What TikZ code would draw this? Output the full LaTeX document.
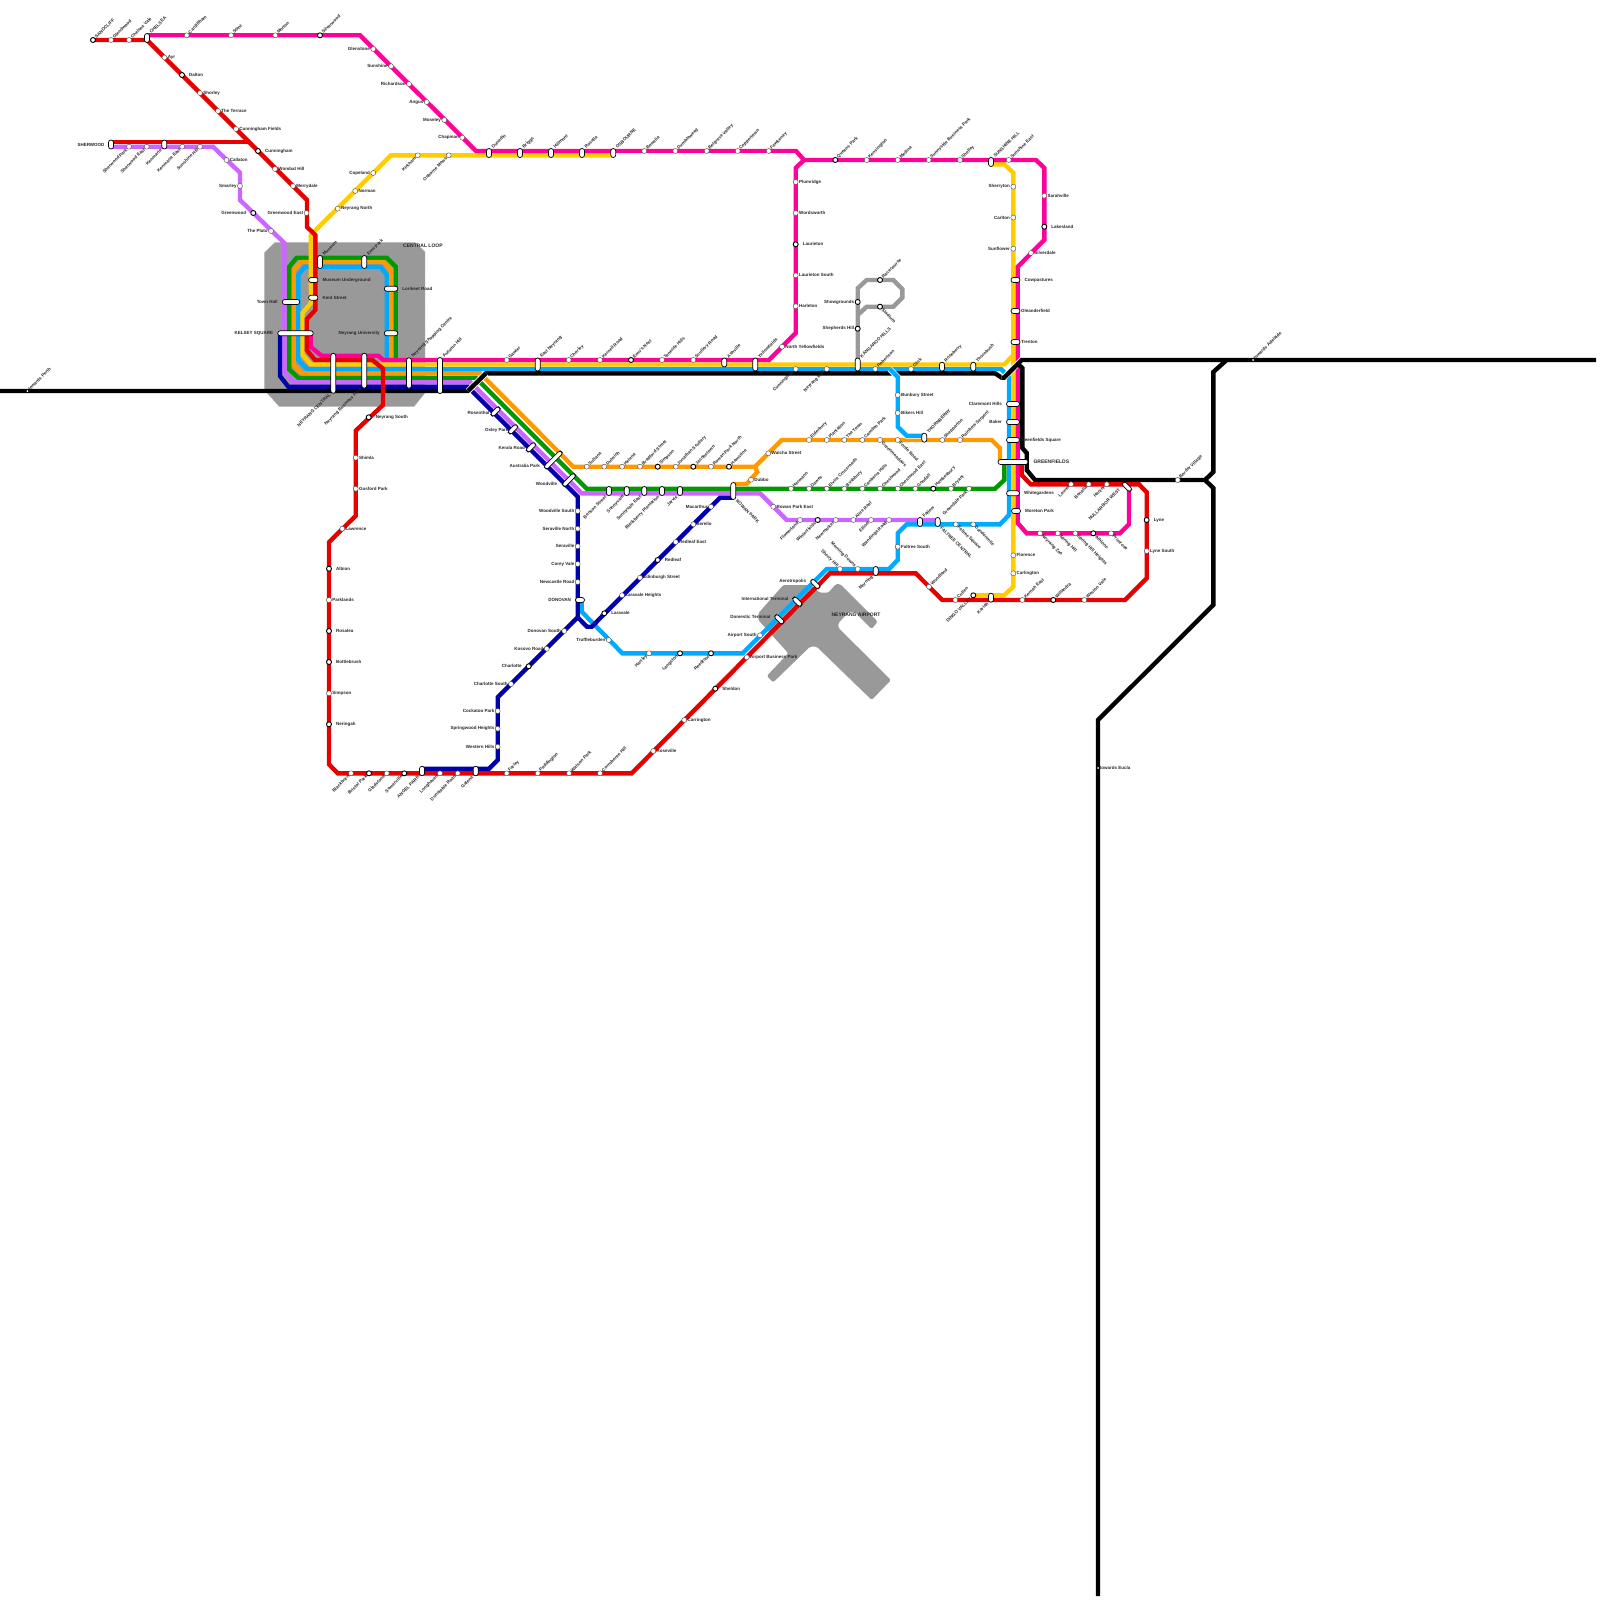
\documentclass[tikz,border=0pt]{standalone}
\usepackage{fontspec}
\setmainfont{Liberation Sans}
\usetikzlibrary{backgrounds}
\definecolor{cred}{HTML}{E60000}
\definecolor{cmag}{HTML}{FF0099}
\definecolor{cpur}{HTML}{CC66FF}
\definecolor{cora}{HTML}{FF9900}
\definecolor{cgre}{HTML}{009900}
\definecolor{cyel}{HTML}{FFCC00}
\definecolor{cblu}{HTML}{00AAFF}
\definecolor{cnav}{HTML}{0000AA}
\definecolor{cgry}{HTML}{999999}
\tikzset{
  lab/.style={font=\fontsize{4.5}{5.5}\selectfont\bfseries, inner sep=0.5pt, text=black!85},
  capt/.style={font=\fontsize{5}{6}\selectfont\bfseries, inner sep=0pt, text=black!85},
  stn/.style={circle, draw=black!70, fill=white, line width=.4pt, inner sep=0pt, minimum size=5pt},
  ring/.style={circle, draw=black, fill=white, line width=.9pt, inner sep=0pt, minimum size=5pt},
  dotstn/.style={circle, fill=white, inner sep=0pt, minimum size=2pt},
  pill/.style={rectangle, rounded corners=2.5pt, draw=black, fill=white, line width=.7pt, inner sep=0pt},
  pillv/.style={pill, minimum width=5pt, minimum height=#1},
  pillh/.style={pill, minimum height=5pt, minimum width=#1},
  pilld/.style={pill, minimum height=4.5pt, minimum width=#1, rotate=45},
  lbe/.style={label={[lab,anchor=west]0:#1}},
  lbw/.style={label={[lab,anchor=east]180:#1}},
  lbef/.style={label={[lab,anchor=west,xshift=3.5pt]0:#1}},
  lbwf/.style={label={[lab,anchor=east,xshift=-3.5pt]180:#1}},
  lbne/.style={append after command={node[lab,rotate=45,anchor=west] at (\tikzlastnode.north east) {#1}}},
  lbsw/.style={append after command={node[lab,rotate=45,anchor=east] at (\tikzlastnode.south west) {#1}}},
  lbse/.style={append after command={node[lab,rotate=-45,anchor=west] at (\tikzlastnode.south east) {#1}}},
  lbnw/.style={append after command={node[lab,rotate=-45,anchor=east] at (\tikzlastnode.north west) {#1}}},
  railway/.style={line width=4.4pt, miter limit=4},
  casedrail/.style={railway, preaction={draw=white, line width=6pt}},
  zone/.style={fill=cgry, draw=black!25, dashed, line width=.4pt},
  apron/.style={fill=cgry, rounded corners=1.5pt},
}
\begin{document}
\begin{tikzpicture}[x=1pt,y=-1pt]
  \useasboundingbox (0,0) rectangle (1600,1600);

  % west end and the red line down from Chelsea
  \node[ring,lbne={SANDCLIFF}] (sandcliff) at (93,40) {};
  \node[stn,lbne={Glendwood}] (glendwood) at (111,40) {};
  \node[stn,lbne={Chelsea Vale}] (chelseavale) at (129,40) {};
  \node[pillv=9pt,lbne={CHELSEA}] (chelsea) at (147,38) {};
  \node[stn,lbe={Ayr}] (ayr) at (164.5,57.5) {};
  \node[ring,lbef={Dalton}] (dalton) at (182,75) {};
  \node[stn,lbe={Shorley}] (shorley) at (200,93) {};
  \node[stn,lbe={The Terrace}] (terrace) at (218,111) {};
  \node[stn,lbe={Cunningham Fields}] (cunnfields) at (236,129) {};
  \node[ring,lbef={Cunningham}] (cunningham) at (258,151) {};
  \node[stn,lbe={Wombat Hill}] (wombat) at (275,169) {};
  \node[stn,lbe={Merrydale}] (merrydale) at (293,186) {};
  \node[stn,lbw={Greenwood East}] (greenwoodeast) at (306.5,213) {};

  \node[pillv=9pt,label={[lab,anchor=east,xshift=-3pt]180:SHERWOOD}] (sherwood) at (111,144.5) {};
  \node[stn,lbsw={Sherwood Park}] (sherwoodpark) at (129,146.7) {};
  \node[stn,lbsw={Sherwood East}] (sherwoodeast) at (146.7,146.7) {};
  \node[pillv=9pt,lbsw={Kenmarie}] (kenmarie) at (164.3,144.5) {};
  \node[stn,lbsw={Kenmarie East}] (kenmarieeast) at (182.3,146.7) {};
  \node[stn,lbsw={Sunshine Hill}] (sunshinehill) at (200,146.7) {};
  \node[stn,lbe={Callaton}] (callaton) at (226.5,160) {};
  \node[stn,lbw={Smarley}] (smarley) at (240,186) {};
  \node[ring,lbwf={Greenwood}] (greenwood) at (253.3,213) {};
  \node[stn,lbw={The Plato}] (plato) at (271,231) {};

  % magenta across the top
  \node[stn,lbne={Cardiffham}] (cardiffham) at (186.7,35.3) {};
  \node[stn,lbne={Stent}] (stent) at (231,35.3) {};
  \node[stn,lbne={Morton}] (morton) at (275.3,35.3) {};
  \node[ring,lbne={Silverwood}] (silverwood) at (320,35.3) {};
  \node[stn,lbw={Glenstone}] (glenstone) at (373.3,49) {};
  \node[stn,lbw={Sunshine}] (sunshine) at (391,66.3) {};
  \node[stn,lbw={Richardson}] (richardson) at (409,84) {};
  \node[stn,lbw={Angus}] (angus) at (426.7,102) {};
  \node[stn,lbw={Moseley}] (moseley) at (444.3,120) {};
  \node[stn,lbw={Chapman}] (chapman) at (462.3,137.7) {};
  \node[pillv=9pt,lbne={Dunedin}] (dunedin) at (489,153) {};
  \node[pillv=9pt,lbne={Briggs}] (briggs) at (520,153) {};
  \node[pillv=9pt,lbne={Hillmont}] (hillmont) at (551,153) {};
  \node[pillv=9pt,lbne={Rosella}] (rosella) at (582,153) {};
  \node[pillv=9pt,lbne={OSBOURNE}] (osbourne) at (613.3,153) {};
  \node[stn,lbne={Bowelia}] (bowelia) at (644.3,151) {};
  \node[stn,lbne={Dumbleweed}] (dumbleweed) at (675.3,151) {};
  \node[stn,lbne={Belgrave Valley}] (belgrave) at (706.7,151) {};
  \node[stn,lbne={Coppertown}] (coppertown) at (737.7,151) {};
  \node[stn,lbne={Fawkeney}] (fawkeney) at (768.7,151) {};
  \node[stn,lbe={Plumridge}] (plumridge) at (795.7,182) {};
  \node[stn,lbe={Wordsworth}] (wordsworth) at (795.7,213) {};
  \node[ring,lbef={Laurieton}] (laurieton) at (795.7,244.3) {};
  \node[stn,lbe={Laurieton South}] (laurietonsouth) at (795.7,275.3) {};
  \node[stn,lbe={Harleton}] (harleton) at (795.7,306.3) {};
  \node[stn,lbe={North Yellowfields}] (northyellow) at (782,346.7) {};
  \node[ring,lbne={Queens Park}] (queenspark) at (835.3,160) {};
  \node[stn,lbne={Kensington}] (kensington) at (866.7,160) {};
  \node[stn,lbne={Medina}] (medina) at (897.7,160) {};
  \node[stn,lbne={Sunnyside Business Park}] (sunnyside) at (928.7,160) {};
  \node[stn,lbne={Shelley}] (shelley) at (960,160) {};
  \node[pillv=9pt,lbne={SUNSHINE HILL}] (sunshinehi) at (991,162) {};
  \node[stn,lbne={Sunshine East}] (sunshineeast) at (1008.7,160) {};
  \node[stn,lbe={Sarahville}] (sarahville) at (1044.3,195.7) {};
  \node[ring,lbef={Lakesland}] (lakesland) at (1044.3,226.7) {};
  \node[stn,lbe={Silverdale}] (silverdale) at (1031,253) {};
  \node[stn,lbw={Sherryton}] (sherryton) at (1013.3,186.7) {};
  \node[stn,lbw={Carlton}] (carlton) at (1013.3,217.5) {};
  \node[stn,lbw={Sunflower}] (sunflower) at (1013.3,248.7) {};
  \node[pillh=9pt,lbef={Cowpastures}] (cowpastures) at (1015.5,280) {};
  \node[pillh=9pt,lbe={Oleanderfield}] (oleander) at (1015.5,311) {};
  \node[pillh=9pt,lbe={Trenton}] (trenton) at (1015.5,342) {};

  % yellow out of the loop
  \node[stn,lbw={Copeland}] (copeland) at (373.3,173) {};
  \node[stn,lbe={Norman}] (norman) at (355.3,191) {};
  \node[stn,lbe={Neyrang North}] (neyrangnorth) at (337.7,208.7) {};
  \node[stn,lbsw={Kirkham}] (kirkham) at (417.7,155.3) {};
  \node[stn,lbsw={Osborne Mews}] (osbornemews) at (448.7,155.3) {};

  % central loop
  \node[pillv=13pt,lbne={Museum}] (museum) at (320,262) {};
  \node[pillv=13pt,lbne={Emu Park}] (emupark) at (364.3,262) {};
  \node[pillh=9.5pt,lbef={Museum Underground}] (museumug) at (313.3,280) {};
  \node[pillh=9.5pt,lbef={Kent Street}] (kentstreet) at (313.3,297.7) {};
  \node[pillh=17.5pt,lbwf={Town Hall}] (townhall) at (291,302) {};
  \node[pillh=35.5pt,lbwf={KELSEY SQUARE}] (kelsey) at (295.5,333.3) {};
  \node[pillh=13.5pt,lbef={Lorikeet Road}] (lorikeet) at (391,288.7) {};
  \node[pillh=13.5pt,lbwf={Neyrang University}] (neyranguni) at (391,333.3) {};
  \node[pillv=40pt,lbsw={NEYRANG CENTRAL}] (neyrangcentral) at (333.3,373.3) {};
  \node[pillv=35pt,lbsw={Neyrang Business Park}] (neyrangbusiness) at (364.3,370.7) {};
  \node[pillv=30.5pt,lbne={Neyrang Shopping Centre}] (neyrangshop) at (409,373) {};
  \node[pillv=36pt,lbne={Autumn Hill}] (autumnhill) at (440,375.5) {};
  \node[capt,anchor=west] (loopcapt) at (403,246) {CENTRAL LOOP};

  % main east-west bundle
  \node[stn,lbne={Gawler}] (gawler) at (506.7,360) {};
  \node[pillv=13pt,lbne={East Neyrang}] (eastneyrang) at (537.7,364.5) {};
  \node[stn,lbne={Chorley}] (chorley) at (568.7,360) {};
  \node[stn,lbne={Kernell Road}] (kernell) at (600,360) {};
  \node[ring,lbne={Emu's Nest}] (emusnest) at (631,360) {};
  \node[stn,lbne={Tenerife Hills}] (tenerife) at (662,360) {};
  \node[stn,lbne={Scullery Road}] (scullery) at (693.3,360) {};
  \node[pillv=9pt,lbne={Ashville}] (ashville) at (724.3,362.5) {};
  \node[pillv=13pt,lbne={Yellowfields}] (yellowfields) at (755.3,364.5) {};
  \node[stn,lbsw={Cunningham}] (cunningham2) at (795.7,369) {};
  \node[stn,lbsw={Neyrang Mall}] (neyrangmall) at (826.7,369) {};
  \node[pillv=13pt,lbne={KANGAROO HILLS}] (kangaroo) at (857.7,364.5) {};
  \node[stn,lbne={Robertson}] (robertson) at (875.3,369) {};
  \node[stn,lbne={Click}] (click) at (911,369) {};
  \node[pillv=9pt,lbne={Roseberry}] (roseberry) at (942,366.7) {};
  \node[pillv=9pt,lbne={Thornbush}] (thornbush) at (973.3,366.7) {};

  % grey branch
  \node[ring,lbw={Showgrounds}] (showgrounds) at (857.7,302) {};
  \node[ring,lbw={Shepherds Hill}] (shepherds) at (857.7,328.7) {};
  \node[ring,lbne={Racecourse}] (racecourse) at (880,280) {};
  \node[ring,lbse={Stadium}] (stadium) at (880,306.7) {};

  % diagonal out of the city
  \node[pilld=11pt] (rosenthal) at (495.5,411.5) {};
  \node[pilld=11pt] (oxleypark) at (513,429.3) {};
  \node[pilld=11pt] (keralaroad) at (531,447.3) {};
  \node[pilld=23pt] (australiapark) at (553.3,460) {};
  \node[pilld=16pt] (woodville) at (569,480) {};
  \node[lab,anchor=east] (lbrosenthal) at (490,412.5) {Rosenthal};
  \node[lab,anchor=east] (lboxley) at (509,430.5) {Oxley Park};
  \node[lab,anchor=east] (lbkerala) at (525.5,448) {Kerala Road};
  \node[lab,anchor=east] (lbaustralia) at (540.5,466) {Australia Park};
  \node[lab,anchor=east] (lbwoodville) at (557.7,484) {Woodville};

  % orange, green and purple east of the diagonal
  \node[stn,lbne={Sultana}] (sultana) at (586.7,466.7) {};
  \node[stn,lbne={Dulwich}] (dulwich) at (604.3,466.7) {};
  \node[stn,lbne={Helena}] (helena) at (622,466.7) {};
  \node[stn,lbne={Bradford Street}] (bradford) at (640,466.7) {};
  \node[ring,lbne={Simpson}] (simpsonor) at (657.7,466.7) {};
  \node[stn,lbne={Jonathan Scullery}] (jonathan) at (675.7,466.7) {};
  \node[ring,lbne={Jacobstown}] (jacobstown) at (693.3,466.7) {};
  \node[stn,lbne={Rowan Park North}] (rowannorth) at (711,466.7) {};
  \node[ring,lbne={Hamstine}] (hamstine) at (729,466.7) {};
  \node[stn,lbe={Walcha Street}] (walcha) at (768.3,453.3) {};
  \node[stn,lbe={Dubbo}] (dubbo) at (751,479.7) {};
  \node[stn,lbe={Rowan Park East}] (rowaneast) at (773.3,506.7) {};
  \node[pillv=17pt,lbse={ROWAN PARK}] (rowanpark) at (733.3,491) {};
  \node[pillv=9pt,lbsw={Benson Street}] (benson) at (609,491) {};
  \node[pillv=9pt,lbsw={Sunnyvale}] (sunnyvale) at (626.7,491) {};
  \node[pillv=9pt,lbsw={Sunnyvale East}] (sunnyvaleeast) at (644.3,491) {};
  \node[pillv=9pt,lbsw={Blackberry Plantation}] (blackberry) at (662,491) {};
  \node[pillv=9pt,lbsw={Jarvis}] (jarvis) at (680,491) {};
  \node[stn,lbne={Elderbury}] (elderbury) at (809,440) {};
  \node[stn,lbne={Plantation}] (plantation) at (826.7,440) {};
  \node[stn,lbne={The Town}] (thetown) at (844.3,440) {};
  \node[stn,lbne={Camden Park}] (camden) at (862.3,440) {};
  \node[stn,lbse={Greenmeadows}] (greenmeadows) at (880,440) {};
  \node[stn,lbse={Forde Road}] (forde) at (897.7,440) {};
  \node[pillv=9pt,lbne={THORNBERRY}] (thornberry) at (924.3,437.7) {};
  \node[stn,lbne={Shepparton}] (shepparton) at (942.3,440) {};
  \node[stn,lbne={Rainbow Serpent}] (rainbow) at (960,440) {};
  \node[stn,lbe={Bunbury Street}] (bunbury) at (897.7,395) {};
  \node[stn,lbe={Bikers Hill}] (bikers) at (897.7,413) {};
  \node[stn,lbne={Hermann}] (hermann) at (791,488.7) {};
  \node[stn,lbne={Dawes}] (dawes) at (809,488.7) {};
  \node[stn,lbne={Elvira Crossroads}] (elvira) at (826.7,488.7) {};
  \node[stn,lbne={Bushbury}] (bushbury) at (844.3,488.7) {};
  \node[stn,lbne={Canberra Hills}] (canberra) at (862.3,488.7) {};
  \node[stn,lbne={Chestwood}] (chestwood) at (880,488.7) {};
  \node[stn,lbne={Chestwood East}] (chestwoodeast) at (897.7,488.7) {};
  \node[stn,lbne={Goodall}] (goodall) at (915.3,488.7) {};
  \node[ring,lbne={Hawkesbury}] (hawkesbury) at (933.3,488.7) {};
  \node[stn,lbne={Bryant}] (bryant) at (951,488.7) {};
  \node[stn,lbsw={Greendale Park}] (greendale) at (969,488.7) {};
  \node[stn,lbsw={Flowerland}] (flowerland) at (800,520) {};
  \node[ring,lbsw={Winterfields}] (winterfields) at (817.7,520) {};
  \node[stn,lbsw={Newmarket}] (newmarket) at (835.7,520) {};
  \node[stn,lbne={Alice Reef}] (alicereef) at (853.3,520) {};
  \node[stn,lbsw={Elliott}] (elliott) at (871,520) {};
  \node[stn,lbsw={Wandinga Road}] (wandinga) at (889,520) {};
  \node[pillv=9pt,lbne={Fatlow}] (fatlow) at (920,522) {};
  \node[pillv=9pt,lbse={FALTREE CENTRAL}] (faltree) at (937.7,522) {};
  \node[stn,lbse={Faltree Square}] (faltreesq) at (955.7,524.3) {};
  \node[stn,lbse={Dandenmile}] (dandenmile) at (973.3,524.3) {};
  \node[stn,lbe={Faltree South}] (faltreesouth) at (897.7,546.7) {};

  % east side
  \node[pillh=13pt,lbwf={Claremont Hills}] (claremont) at (1013,404) {};
  \node[pillh=13pt,lbwf={Baker}] (baker) at (1013,422) {};
  \node[pillh=13pt,label={[lab,anchor=west,xshift=-1pt]0:Greenfields Square}] (greenfieldssq) at (1013,440) {};
  \node[pillh=30pt,label={[capt,anchor=west,xshift=5pt]0:GREENFIELDS}] (greenfields) at (1013,462) {};
  \node[pillh=13pt,lbef={Whitegardens}] (whitegardens) at (1013,493.3) {};
  \node[pillh=9pt,lbef={Moreton Park}] (moreton) at (1016,511) {};
  \node[stn,lbe={Florence}] (florence) at (1013.3,555.3) {};
  \node[stn,lbe={Carlington}] (carlington) at (1013.3,573.3) {};
  \node[stn,lbsw={Laurel}] (laurel) at (1071,484.3) {};
  \node[stn,lbsw={Benalla}] (benalla) at (1088.7,484.3) {};
  \node[stn,lbsw={Hector}] (hector) at (1106.7,484.3) {};
  \node[pilld=11pt,rotate=90] (nullarbor) at (1127,486.7) {};
  \node[lab,rotate=45,anchor=east] (lbnullarbor) at (1120,489) {NULLARBOR WEST};
  \node[stn,lbse={Neyrang Zoo}] (neyrangzoo) at (1040,533.3) {};
  \node[stn,lbse={Spring Hill}] (springhill) at (1057.7,533.3) {};
  \node[stn,lbse={Spring Hill Heights}] (springheights) at (1075.3,533.3) {};
  \node[ring,lbse={Athlone}] (athlone) at (1093.3,533.3) {};
  \node[stn,lbse={Primrose}] (primrose) at (1111,533.3) {};
  \node[ring,lbef={Lyne}] (lyne) at (1146.7,520) {};
  \node[stn,lbe={Lyne South}] (lynesouth) at (1146.7,551) {};
  \node[stn,lbne={Weston Vale}] (westonvale) at (1084.3,600) {};
  \node[ring,lbne={Willandra}] (willandra) at (1053.3,600) {};
  \node[stn,lbne={Kernah East}] (kernaheast) at (1022.3,600) {};
  \node[pillv=9pt,lbsw={Kariah}] (kariah) at (991,597.7) {};
  \node[ring,lbsw={DINGO VALLEY}] (dingovalley) at (973.3,595.3) {};
  \node[stn,lbne={Cullen}] (cullen) at (955.3,600) {};
  \node[stn,lbne={Woodland}] (woodland) at (929,586.7) {};
  \node[pillv=9pt,lbsw={Morning}] (morning) at (875.7,571) {};
  \node[stn,lbne={Border Village}] (bordervillage) at (1177.7,480) {};
  \node[dotstn,lbne={towards Adelaide}] (adelaide) at (1253,360) {};
  \node[dotstn,lbe={towards Eucla}] (eucla) at (1098,768) {};
  \node[dotstn,lbne={towards Perth}] (perth) at (27.5,391) {};

  % airport
  \node[stn,lbnw={Morning Downs}] (morningdowns) at (857.7,569) {};
  \node[stn,lbnw={Sherry Hill}] (sherryhill) at (840,569) {};
  \node[stn,lbw={Airport South}] (airportsouth) at (760,635.3) {};
  \node[pilld=11pt,rotate=90] (domestic) at (779.3,619.3) {};
  \node[pilld=11pt,rotate=90] (international) at (797.3,601.7) {};
  \node[pilld=11pt,rotate=90] (aerotropolis) at (815.3,584) {};
  \node[lab,anchor=east] (lbdomestic) at (771,617.3) {Domestic Terminal};
  \node[lab,anchor=east] (lbinternational) at (789,599.3) {International Terminal};
  \node[lab,anchor=east] (lbaerotropolis) at (806.7,581.7) {Aerotropolis};
  \node[stn,lbe={Airport Business Park}] (airportbusiness) at (746.7,657.3) {};
  \node[ring,lbef={Sheldon}] (sheldon) at (715.3,688.7) {};
  \node[stn,lbe={Carrington}] (carrington) at (684.3,720) {};
  \node[stn,lbe={Roseville}] (roseville) at (653.3,751) {};
  \node[capt,anchor=center] (airportcapt) at (856,615) {NEYRANG AIRPORT};
  \node[stn,lbsw={Hartley}] (hartley) at (649,653.3) {};
  \node[ring,lbsw={Langston}] (langston) at (680,653.3) {};
  \node[ring,lbsw={Reedfoot}] (reedfoot) at (711,653.3) {};
  \node[stn,lbw={Truffleburden}] (truffleburden) at (608.7,640) {};

  % navy through Donovan
  \node[stn,lbw={Woodville South}] (woodvillesouth) at (577.7,511) {};
  \node[stn,lbw={Seraville North}] (seravillenorth) at (577.7,528.7) {};
  \node[stn,lbw={Seraville}] (seraville) at (577.7,546.3) {};
  \node[stn,lbw={Corey Vale}] (coreyvale) at (577.7,564) {};
  \node[stn,lbw={Newcastle Road}] (newcastle) at (577.7,582) {};
  \node[pillh=9pt,lbwf={DONOVAN}] (donovan) at (580,600) {};
  \node[stn,lbw={Donovan South}] (donovansouth) at (564.3,631) {};
  \node[stn,lbw={Kosovo Road}] (kosovo) at (546.7,648.7) {};
  \node[ring,lbwf={Charlotte}] (charlotte) at (528.7,666.3) {};
  \node[stn,lbw={Charlotte South}] (charlottesouth) at (511,684) {};
  \node[stn,lbw={Cockatoo Park}] (cockatoo) at (497.7,711) {};
  \node[stn,lbw={Springwood Heights}] (springwood) at (497.7,728.7) {};
  \node[stn,lbw={Western Hills}] (westernhills) at (497.7,746.7) {};
  \node[ring,lbef={Laravale}] (laravale) at (604.3,613.3) {};
  \node[stn,lbe={Laravale Heights}] (laravaleheights) at (622,595.3) {};
  \node[stn,lbe={Edinburgh Street}] (edinburgh) at (640,577.7) {};
  \node[ring,lbef={Redleaf}] (redleaf) at (657.7,560) {};
  \node[stn,lbe={Redleaf East}] (redleafeast) at (675.7,542) {};
  \node[stn,lbe={Serello}] (serello) at (693.3,524.3) {};
  \node[stn,lbw={Macarthur}] (macarthur) at (711,506.7) {};

  % red, south-west
  \node[ring,lbef={Neyrang South}] (neyrangsouth) at (368.7,417.3) {};
  \node[stn,lbe={Shimla}] (shimla) at (355.7,457.7) {};
  \node[stn,lbe={Gosford Park}] (gosford) at (355.7,488.7) {};
  \node[stn,lbe={Lawrence}] (lawrence) at (342.3,528.7) {};
  \node[ring,lbef={Albion}] (albion) at (329,568.7) {};
  \node[stn,lbe={Parklands}] (parklands) at (329,600) {};
  \node[ring,lbef={Rosalea}] (rosalea) at (329,631) {};
  \node[ring,lbef={Bottlebrush}] (bottlebrush) at (329,662) {};
  \node[stn,lbe={Simpson}] (simpsonrd) at (329,693.3) {};
  \node[ring,lbef={Neringah}] (neringah) at (329,724.3) {};
  \node[stn,lbsw={Blackburn}] (blackburn) at (351,773.3) {};
  \node[ring,lbsw={Bristol Park}] (bristol) at (369,773.3) {};
  \node[stn,lbsw={Gladstone}] (gladstone) at (386.7,773.3) {};
  \node[ring,lbsw={Somerville}] (somerville) at (404.3,773.3) {};
  \node[pillv=9.5pt,lbsw={ANGEL PARK}] (angelpark) at (422,771) {};
  \node[stn,lbsw={Longhaven}] (longhaven) at (440,773.3) {};
  \node[stn,lbsw={Dunstable Road}] (dunstable) at (457.7,773.3) {};
  \node[pillv=9.5pt,lbsw={Galena}] (galena) at (475.7,771) {};
  \node[stn,lbne={Farley}] (farley) at (506.7,773.3) {};
  \node[stn,lbne={Paddington}] (paddington) at (537.7,773.3) {};
  \node[stn,lbne={Watson Park}] (watson) at (569,773.3) {};
  \node[stn,lbne={Corroboree Hill}] (corroboree) at (600,773.3) {};

  \begin{scope}[on background layer]
    % grey areas
    \fill[zone] (264.3,252.7) -- (275,242.3) -- (415,242.3) -- (425,251.7) -- (425,393) -- (414,406.7) -- (279.3,406.7) -- (264.3,390) -- cycle;
    \fill[apron] (758.3,613.3) -- (783.3,585) -- (810,585) -- (820,592.7) -- (828.3,592.7) -- (836,584) -- (840,584) -- (877.7,621.7) -- (871.7,629) -- (855,612.3) -- (848.3,612.3) -- (838.3,623.3) -- (838.3,627.7) -- (891,680) -- (871.7,700) -- (816.7,646.7) -- (810,646.7) -- (773.3,682.3) -- (766.7,676) -- (788.3,653.3) -- (758.3,620) -- cycle;
    % lines
    \draw[railway,cgry] (857.7,360) -- (857.7,288.3) -- (866.7,280) -- (893.3,280) -- (902.3,289) -- (902.3,297.7) -- (893.3,306.7) -- (866.7,306.7) -- (857.7,315);
    \draw[railway,cgre] (395.7,358) -- (395.7,266.7) -- (386.7,257.7) -- (296.7,257.7) -- (289.3,266.7) -- (289.3,369.5) -- (298.3,377.7) -- (475.7,377.7) -- (586.7,488.7) -- (995,488.7) -- (1004.3,480) -- (1004.3,462);
    \draw[railway,cora] (391,358) -- (391,270) -- (383.5,262) -- (301,262) -- (293.7,270) -- (293.7,365) -- (302,373.3) -- (480,373.3) -- (573.3,466.7) -- (755,466.7) -- (781.7,440) -- (991.7,440) -- (1000,448.3) -- (1000,462);
    \draw[railway,cora] (755,466.7) -- (757.3,472) -- (746.7,484) -- (733.3,484);
    \draw[railway,cblu] (386.7,358) -- (386.7,275) -- (380.7,266.7) -- (305,266.7) -- (298.3,275) -- (298.3,360) -- (307,369) -- (1001,369) -- (1009,377) -- (1009,515) -- (1000,524.3) -- (906.7,524.3) -- (897.7,533.3) -- (897.7,560) -- (889,569) -- (826.7,569) -- (742.7,653.3) -- (622.3,653.3) -- (581.7,611.7) -- (581.7,600);
    \draw[railway,cyel] (613.3,155.3) -- (391,155.3) -- (310.7,235) -- (311,303) -- (302.5,313) -- (302.5,355) -- (311,364.5) -- (1004.3,364.5) -- (1013.3,355);
    \draw[railway,cyel] (991,164.3) -- (1004.3,164.3) -- (1013.3,172.7) -- (1013.3,586.7) -- (1004.3,595.3) -- (dingovalley.center);
    \draw[railway,cpur] (sherwood.center |- 0,146.7) -- (213,146.7) -- (240,172.7) -- (240,200) -- (284.3,243) -- (284.3,372) -- (294,382.3) -- (470.6,382.3) -- (581.7,493.3) -- (760,493.3) -- (786.7,520) -- (faltree.center |- 0,520);
    \draw[railway,cnav] (280,333.3) -- (280,376) -- (288.3,386.7) -- (467.7,386.7) -- (577.7,496.7) -- (577.7,617.3) -- (497.7,697.3) -- (497.7,760) -- (489,768.7) -- (angelpark.center |- 0,768.7);
    \draw[railway,cnav] (577.7,617.3) -- (587,626.7) -- (591.7,626.7) -- (720,497.7) -- (rowanpark.center |- 0,497.7);
    \draw[railway,cmag] (147,35.3) -- (360,35.3) -- (476,151) -- (796,151) -- (804,160) -- (1036,160) -- (1044.3,168) -- (1044.3,240) -- (1017.7,266.7) -- (1017.7,523) -- (1026.7,533.3) -- (1120,533.3) -- (1129,524.3) -- (1129,488);
    \draw[railway,cmag] (310.7,333) -- (310.7,347) -- (321.7,355.7) -- (378.3,355.7) -- (383.3,360) -- (769,360) -- (795.7,333) -- (795.7,168) -- (804,160);
    \draw[railway,black] (0,391) -- (468,391) -- (486,373.3) -- (995,373.3) -- (1001.7,377.7) -- (1005,377.7);
    \draw[casedrail,black] (468,391) -- (486,373.3);
    \draw[casedrail,black] (1001.7,377.7) -- (1004,377.7) -- (1021.7,360) -- (1596,360);
    \draw[casedrail,cblu] (889.7,369) -- (897.7,377) -- (897.7,426.7) -- (906.7,435.7) -- (924.3,435.7);
    \draw[railway,black] (1019,365) -- (1022.3,368) -- (1022.3,448) -- (1026.7,453) -- (1026.7,470) -- (1035,480) -- (1205,480) -- (1213.3,472) -- (1213.3,372) -- (1226.7,360);
    \draw[railway,black] (1205,480) -- (1213.3,488) -- (1213.3,605) -- (1098,720) -- (1098,1596);
    \draw[railway,cred] (sandcliff.center) -- (147,40) -- (307,200) -- (307,227) -- (315.3,235) -- (315.3,310) -- (306.7,319.3) -- (306.7,350) -- (315,360) -- (372.3,360) -- (383,368.7) -- (383,405) -- (355.7,430.7) -- (355.7,515.7) -- (329,542.3) -- (329,764.3) -- (337.7,773.3) -- (631.7,773.3) -- (830,573.3) -- (915.7,573.3) -- (942.3,600) -- (1125,600) -- (1146.7,578.3) -- (1146.7,492.3) -- (1139,484.3) -- (1030.7,484.3) -- (1021.7,475) -- (1021.7,462);
    \draw[railway,cred] (sherwood.center |- 0,142) -- (249,142);
  \end{scope}
\end{tikzpicture}
\end{document}
